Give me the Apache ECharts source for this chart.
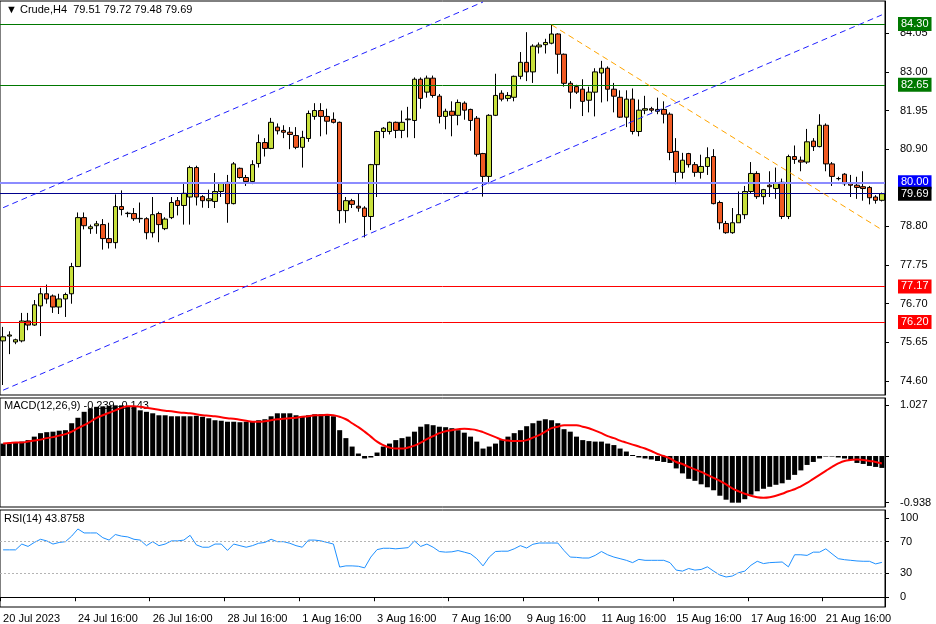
<!DOCTYPE html>
<html>
<head>
<meta charset="utf-8">
<script src="https://cdn.jsdelivr.net/npm/echarts@6/dist/echarts.min.js"></script>
<style>
  html, body { margin: 0; padding: 0; background: #fff; }
  #chart { width: 936px; height: 624px; }
</style>
</head>
<body>
<div id="chart"></div>
<script>
// H4 candles, [open, close, low, high]
var ohlc = [
  [75.69,75.80,74.49,76.07],[75.82,75.85,75.33,75.95],[75.66,75.72,75.60,75.75],[75.69,76.23,75.65,76.45],
  [76.23,76.12,75.98,76.45],[76.12,76.67,76.10,76.80],[76.64,76.97,75.82,77.13],[76.97,76.83,76.70,77.22],
  [76.91,76.61,76.45,76.95],[76.61,76.83,76.42,76.97],[76.83,76.95,76.34,77.00],[76.97,77.71,76.70,77.81],
  [77.71,79.04,77.70,79.18],[79.04,78.82,78.72,79.18],[78.74,78.79,78.60,78.85],[78.82,78.87,78.60,78.95],
  [78.85,78.47,78.17,79.00],[78.47,78.36,78.20,78.90],[78.36,79.34,78.20,79.67],[79.34,79.26,79.10,79.78],
  [79.15,79.16,79.05,79.20],[79.15,79.01,78.95,79.30],[79.01,79.02,78.90,79.45],[79.01,78.63,78.45,79.05],
  [78.63,79.12,78.50,79.60],[79.15,78.85,78.37,79.20],[78.74,79.00,78.70,79.05],[79.04,79.45,79.00,79.60],
  [79.50,79.37,79.10,79.60],[79.37,79.70,78.85,80.00],[79.60,80.40,78.85,80.45],[80.40,79.60,79.37,80.45],
  [79.61,79.50,79.31,79.65],[79.50,79.55,79.30,79.80],[79.48,79.75,79.30,80.25],[79.75,79.97,79.60,80.00],
  [80.00,79.42,78.90,80.20],[79.42,80.50,79.40,80.55],[80.38,80.13,80.10,80.40],[80.13,80.02,79.90,80.20],
  [80.02,80.48,79.95,80.60],[80.51,81.08,80.40,81.30],[81.08,80.92,80.70,81.20],[80.92,81.63,80.90,81.75],
  [81.50,81.40,81.30,81.60],[81.41,81.36,81.20,81.55],[81.36,81.30,80.90,81.50],[81.27,80.95,80.90,81.50],
  [80.95,81.22,80.40,81.40],[81.19,81.87,81.10,81.95],[81.79,81.95,81.70,82.15],[81.95,81.79,81.25,82.15],
  [81.79,81.66,81.30,82.00],[81.71,81.63,81.60,81.90],[81.63,79.23,78.88,81.65],[79.23,79.50,78.90,79.60],
  [79.50,79.40,79.30,79.55],[79.35,79.30,79.20,79.70],[79.30,79.07,78.50,79.35],[79.07,80.48,78.70,80.50],
  [80.48,81.38,79.60,81.40],[81.38,81.47,81.20,81.50],[81.38,81.63,81.30,81.65],[81.63,81.41,81.20,81.65],
  [81.41,81.63,81.20,81.95],[81.70,81.72,81.22,82.05],[81.68,82.80,81.20,82.85],[82.80,82.28,82.00,82.85],
  [82.45,82.83,82.30,82.90],[82.83,82.36,82.30,82.90],[82.34,81.79,81.60,82.40],[81.79,81.93,81.44,82.00],
  [81.93,81.82,81.25,82.20],[81.82,82.17,81.55,82.25],[82.15,81.96,81.70,82.20],[81.98,81.68,81.40,82.00],
  [81.74,80.76,80.70,81.80],[80.78,80.16,79.61,80.80],[80.16,81.82,79.95,81.85],[81.82,82.36,81.80,82.95],
  [82.42,82.26,82.20,82.50],[82.28,82.36,82.20,82.45],[82.31,82.88,82.20,82.90],[82.88,83.26,82.80,83.54],
  [83.26,83.00,82.75,84.08],[83.00,83.70,82.70,83.75],[83.68,83.73,83.50,83.80],[83.74,83.80,83.50,83.90],
  [83.78,84.03,83.75,84.30],[84.03,83.48,82.95,84.05],[83.48,82.69,82.60,83.50],[82.69,82.45,82.00,82.75],
  [82.60,82.45,82.40,82.65],[82.53,82.20,81.80,82.80],[82.23,82.45,81.90,82.60],[82.45,83.00,81.79,83.10],
  [82.97,83.10,82.17,83.30],[83.10,82.53,82.20,83.15],[82.53,82.34,81.90,82.70],[82.31,81.77,81.75,82.50],
  [81.77,82.26,81.50,82.50],[82.26,81.38,81.30,82.55],[81.38,81.96,81.25,82.25],[81.96,82.00,81.85,82.35],
  [82.00,81.96,81.90,82.05],[81.93,81.98,81.85,82.30],[81.98,81.85,81.60,82.20],[81.85,80.81,80.60,81.90],
  [80.84,80.27,79.95,81.20],[80.27,80.60,80.10,80.80],[80.78,80.48,80.40,80.80],[80.48,80.27,80.15,80.55],
  [80.27,80.43,80.10,80.75],[80.43,80.67,80.20,80.95],[80.70,79.42,79.40,80.90],[79.45,78.90,78.72,79.50],
  [78.88,78.63,78.60,78.95],[78.63,78.90,78.60,79.30],[78.90,79.12,78.90,79.75],[79.12,79.75,79.00,79.90],
  [79.75,80.24,79.70,80.55],[80.24,79.61,79.55,80.30],[79.61,79.80,79.40,79.82],[79.92,79.88,79.60,80.30],
  [79.83,79.97,79.55,80.40],[80.00,79.07,79.00,80.10],[79.07,80.70,79.00,80.75],[80.70,80.62,80.50,81.00],
  [80.60,80.55,80.30,80.70],[80.55,81.10,80.50,81.45],[81.12,80.97,80.85,81.20],[80.97,81.55,80.95,81.85],
  [81.55,80.50,80.30,81.60],[80.50,80.16,79.90,80.55],[80.10,80.10,80.05,80.15],[80.22,79.96,79.90,80.25],
  [79.96,79.92,79.60,80.20],[79.92,79.86,79.55,80.15],[79.88,79.83,79.50,80.30],[79.86,79.58,79.40,79.90],
  [79.60,79.51,79.42,79.65],[79.51,79.69,79.48,79.72]
];

var macdMain = [
  0.25,0.25,0.27,0.29,0.32,0.39,0.46,0.48,0.49,0.51,0.52,0.66,0.77,0.89,0.96,0.99,1.00,1.01,1.02,1.02,
  1.00,0.99,0.92,0.89,0.86,0.82,0.82,0.80,0.80,0.80,0.80,0.81,0.79,0.76,0.72,0.71,0.69,0.69,0.68,0.69,
  0.70,0.72,0.74,0.80,0.86,0.86,0.86,0.82,0.80,0.82,0.84,0.84,0.82,0.80,0.52,0.36,0.19,0.05,-0.05,-0.03,
  0.07,0.19,0.25,0.32,0.36,0.39,0.49,0.59,0.64,0.62,0.59,0.58,0.56,0.52,0.47,0.39,0.29,0.15,0.19,0.25,
  0.32,0.39,0.46,0.52,0.60,0.66,0.71,0.74,0.72,0.66,0.54,0.49,0.39,0.32,0.30,0.29,0.29,0.25,0.22,0.15,
  0.09,0.02,-0.03,-0.05,-0.07,-0.10,-0.12,-0.14,-0.25,-0.35,-0.46,-0.50,-0.57,-0.63,-0.69,-0.80,-0.88,-0.94,-0.94,-0.87,
  -0.78,-0.71,-0.66,-0.62,-0.58,-0.55,-0.48,-0.38,-0.29,-0.18,-0.12,-0.05,-0.01,-0.01,-0.03,-0.05,-0.08,-0.14,-0.16,-0.20,
  -0.22,-0.24
];

var macdSignal = [
  0.25,0.26,0.27,0.27,0.29,0.31,0.33,0.36,0.38,0.41,0.44,0.49,0.56,0.62,0.69,0.77,0.82,0.87,0.92,0.97,
  1.00,1.00,0.99,0.97,0.95,0.93,0.91,0.90,0.88,0.87,0.86,0.84,0.82,0.81,0.80,0.78,0.76,0.75,0.73,0.71,
  0.69,0.69,0.70,0.72,0.74,0.75,0.76,0.77,0.79,0.80,0.82,0.82,0.83,0.82,0.79,0.74,0.66,0.58,0.49,0.39,
  0.29,0.22,0.17,0.15,0.15,0.17,0.21,0.27,0.34,0.40,0.46,0.50,0.52,0.54,0.55,0.54,0.52,0.48,0.43,0.38,
  0.33,0.31,0.30,0.30,0.32,0.37,0.42,0.49,0.56,0.59,0.62,0.62,0.62,0.59,0.56,0.51,0.46,0.40,0.36,0.31,
  0.27,0.23,0.19,0.15,0.10,0.04,0.00,-0.05,-0.12,-0.16,-0.22,-0.27,-0.32,-0.38,-0.44,-0.50,-0.57,-0.65,-0.71,-0.76,
  -0.80,-0.83,-0.84,-0.83,-0.80,-0.76,-0.71,-0.67,-0.61,-0.54,-0.46,-0.38,-0.30,-0.22,-0.15,-0.10,-0.08,-0.07,-0.08,-0.10,
  -0.12,-0.15
];

var rsi = [
  59.7,59.7,59.7,67,64,69,73,71,67,69,70,77,86,81,81,81,75,72,79,77,
  76,73,72,65,70,65,67,71,71,72,78,66,63,63,67,67,59,67,65,63,
  65,68,69,73,70,70,68,65,63,72,72,71,69,67,38,39.5,39.5,39,37,50.6,
  60,61.7,61.7,61,61.7,62.5,71,64,67,63,57.6,56.8,57.2,58.8,56.8,54.7,48.6,39.5,50.6,57.6,
  58,58,61,65,62,66.7,68.3,68.3,68.3,68.3,58.8,50.6,50.2,49.4,49.4,52.7,57.6,53.5,50.6,48.6,
  46.5,43.6,47.7,46.5,46.5,46.5,46.5,43.6,34.2,32.9,36.2,34.2,35,38.3,32.9,28,25.5,26.7,30.9,32.9,
  40.3,45.3,42.4,43.6,44,44.4,38.3,53.5,53.5,52.7,56.8,56.8,61,54.7,48.6,47.3,46.5,45.7,45.3,45.3,
  42,43.9
];

var dateLabels = ['20 Jul 2023', '24 Jul 16:00', '26 Jul 16:00', '28 Jul 16:00', '1 Aug 16:00', '3 Aug 16:00',
  '7 Aug 16:00', '9 Aug 16:00', '11 Aug 16:00', '15 Aug 16:00', '17 Aug 16:00', '21 Aug 16:00'];
var priceTicks = [84.05, 83.00, 81.95, 80.90, 78.80, 77.75, 76.70, 75.65, 74.60];
var macdTicks = [1.027, -0.938];
var rsiTicks = [100, 70, 30, 0];

// horizontal levels: [price, line colour, label colour, line width]
var levels = [
  [84.30, '#007800', '#007800', 1],
  [82.65, '#007800', '#007800', 1],
  [80.00, '#8c8cff', '#0000ff', 2],
  [79.69, '#00008c', '#000000', 1],
  [77.17, '#ff0000', '#ff0000', 1],
  [76.20, '#ff0000', '#ff0000', 1]
];
// trend lines: [[index, price], [index, price]]
var channelLow = [[0, 74.35], [141, 84.55]];
var channelHigh = [[0, 79.31], [77, 84.90]];
var fallLine = [[88, 84.28], [141, 78.71]];

var cats = ohlc.map(function (d, i) { return String(i); });
var font = 'Liberation Sans';
var myChart = echarts.init(document.getElementById('chart'));

function levelLine(l) {
  return {
    yAxis: l[0],
    lineStyle: { color: l[1], width: l[3], type: 'solid' },
    label: {
      show: true, position: 'end', distance: 13, formatter: l[0].toFixed(2),
      color: '#fff', backgroundColor: l[2], padding: [2, 3, 1, 3],
      fontFamily: font, fontSize: 11
    }
  };
}
function trend(t, color) {
  return [{ coord: t[0], lineStyle: { color: color, width: 1, type: [6, 4] } }, { coord: t[1] }];
}

var rightAxis = {
  position: 'right', type: 'value', scale: true,
  axisLine: { show: true, lineStyle: { color: '#000' } },
  axisTick: { show: true, length: 4, lineStyle: { color: '#000' } },
  splitLine: { show: false },
  axisLabel: { color: '#000', fontFamily: font, fontSize: 11, margin: 15 }
};

myChart.setOption({
  animation: false,
  backgroundColor: '#fff',
  grid: [
    { left: 0, width: 885, top: 1, height: 394, show: true, borderColor: '#000', borderWidth: 1 },
    { left: 0, width: 885, top: 398, height: 109, show: true, borderColor: '#000', borderWidth: 1 },
    { left: 0, width: 885, top: 510, height: 99, show: true, borderColor: '#000', borderWidth: 1 }
  ],
  xAxis: [0, 1, 2].map(function (g) {
    return {
      type: 'category', data: cats, gridIndex: g, boundaryGap: true,
      axisLine: { show: g === 2, lineStyle: { color: '#000' } },
      axisTick: { show: g === 2, length: 4, interval: function (i) { return i % 12 === 0; } },
      axisLabel: {
        show: g === 2, align: 'left', margin: 6, color: '#000', fontFamily: font, fontSize: 11,
        interval: function (i) { return i % 12 === 0; },
        formatter: function (v, i) { return dateLabels[i / 12] || ''; }
      },
      splitLine: { show: false }
    };
  }),
  yAxis: [
    Object.assign({}, rightAxis, {
      gridIndex: 0, min: 74.219, max: 84.927,
      axisLabel: Object.assign({}, rightAxis.axisLabel, { customValues: priceTicks, formatter: function (v) { return v.toFixed(2); } }),
      axisTick: Object.assign({}, rightAxis.axisTick, { customValues: priceTicks })
    }),
    Object.assign({}, rightAxis, {
      gridIndex: 1, min: -1.027, max: 1.168,
      axisLabel: Object.assign({}, rightAxis.axisLabel, { customValues: macdTicks, formatter: function (v) { return v.toFixed(3); } }),
      axisTick: Object.assign({}, rightAxis.axisTick, { customValues: macdTicks.concat([0]) })
    }),
    Object.assign({}, rightAxis, {
      gridIndex: 2, min: -12.3, max: 109.9,
      axisLabel: Object.assign({}, rightAxis.axisLabel, { customValues: rsiTicks }),
      axisTick: Object.assign({}, rightAxis.axisTick, { customValues: rsiTicks })
    })
  ],
  series: [
    {
      type: 'candlestick', xAxisIndex: 0, yAxisIndex: 0, data: ohlc, barWidth: 5,
      itemStyle: {
        color: '#c8e03c', color0: '#f05a23',
        borderColor: '#000', borderColor0: '#000', borderWidth: 1
      },
      markLine: {
        symbol: 'none', silent: true,
        data: levels.map(levelLine).concat([
          trend(channelLow, '#2020ff'),
          trend(channelHigh, '#2020ff'),
          trend(fallLine, '#ffa500')
        ])
      }
    },
    {
      type: 'bar', xAxisIndex: 1, yAxisIndex: 1, data: macdMain, barWidth: 5,
      itemStyle: { color: '#000' },
      markLine: {
        symbol: 'none', silent: true,
        data: [{
          yAxis: 0, lineStyle: { opacity: 0 },
          label: {
            show: true, position: 'end', distance: 14, formatter: '0.00', color: '#000',
            backgroundColor: '#fff', borderColor: '#000', borderWidth: 1, padding: [1, 2],
            fontFamily: font, fontSize: 11
          }
        }]
      }
    },
    {
      type: 'line', xAxisIndex: 1, yAxisIndex: 1, data: macdSignal, symbol: 'none', smooth: true,
      lineStyle: { color: '#ff0000', width: 2 }
    },
    {
      type: 'line', xAxisIndex: 2, yAxisIndex: 2, data: rsi, symbol: 'none',
      lineStyle: { color: '#1e90ff', width: 1 },
      markLine: {
        symbol: 'none', silent: true, label: { show: false },
        lineStyle: { color: '#b4b4b4', type: [2, 2], width: 1 },
        data: [{ yAxis: 70 }, { yAxis: 30 }]
      }
    }
  ],
  graphic: [
    { type: 'text', left: 6, top: 4, style: { text: '\u25BC Crude,H4  79.51 79.72 79.48 79.69', fontFamily: font, fontSize: 11, fill: '#000' } },
    { type: 'text', left: 4, top: 400, style: { text: 'MACD(12,26,9) -0.239 -0.143', fontFamily: font, fontSize: 11, fill: '#000' } },
    { type: 'text', left: 4, top: 513, style: { text: 'RSI(14) 43.8758', fontFamily: font, fontSize: 11, fill: '#000' } }
  ]
});
</script>
</body>
</html>
